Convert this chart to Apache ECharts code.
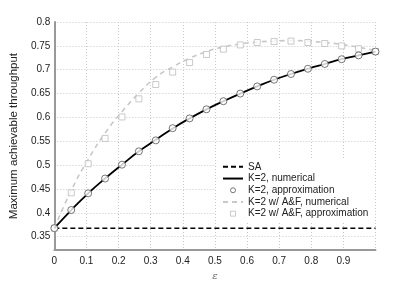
<!DOCTYPE html>
<html>
<head>
<meta charset="utf-8">
<script src="https://cdn.jsdelivr.net/npm/echarts@6/dist/echarts.min.js"></script>
<style>
  html, body { margin: 0; padding: 0; background: #fff; }
  #chart { width: 415px; height: 286px; }
</style>
</head>
<body>
<div id="chart"></div>
<script>
// epsilon grid, 20 points from 0 to 1
var eps = [0, 0.0526, 0.1053, 0.1579, 0.2105, 0.2632, 0.3158, 0.3684, 0.4211, 0.4737,
  0.5263, 0.5789, 0.6316, 0.6842, 0.7368, 0.7895, 0.8421, 0.8947, 0.9474, 1]

var saLevel = 0.3679
var kNum = [0.368, 0.406, 0.441, 0.472, 0.501, 0.529, 0.553, 0.577, 0.598, 0.617,
  0.634, 0.650, 0.665, 0.679, 0.691, 0.702, 0.712, 0.722, 0.730, 0.738]
var kApprox = [0.368, 0.406, 0.441, 0.472, 0.501, 0.529, 0.552, 0.5775, 0.598, 0.617,
  0.634, 0.650, 0.665, 0.679, 0.691, 0.702, 0.712, 0.722, 0.730, 0.738]
var afNum = [0.368, 0.447, 0.512, 0.567, 0.612, 0.651, 0.684, 0.706, 0.724, 0.738,
  0.748, 0.754, 0.758, 0.760, 0.761, 0.760, 0.757, 0.753, 0.747, 0.740]
var afApprox = [0.368, 0.442, 0.503, 0.556, 0.601, 0.639, 0.669, 0.695, 0.715, 0.732,
  0.743, 0.752, 0.757, 0.759, 0.760, 0.757, 0.755, 0.750, 0.744, 0.738]

var xTickLabels = [0, 0.1, 0.2, 0.3, 0.4, 0.5, 0.6, 0.7, 0.8, 0.9]
var xGrid = [0, 0.1, 0.2, 0.3, 0.4, 0.5, 0.6, 0.7, 0.8, 0.9, 1]
var yTicks = [0.35, 0.4, 0.45, 0.5, 0.55, 0.6, 0.65, 0.7, 0.75, 0.8]

var names = ['SA', 'K=2, numerical', 'K=2, approximation',
  'K=2 w/ A&F, numerical', 'K=2 w/ A&F, approximation']

function pairs (xs, ys) {
  return xs.map(function (x, i) { return [x, ys[i]] })
}

var font = 'Liberation Sans, Arial, sans-serif'
var chart = echarts.init(document.getElementById('chart'))

// legend: lines without the dot, small hollow markers
var noDot = { opacity: 0 }
var legendData = [
  { name: names[0], itemStyle: noDot },
  { name: names[1], itemStyle: noDot },
  { name: names[2], icon: 'circle', itemStyle: { color: '#fff', borderColor: '#555', borderWidth: 1 } },
  { name: names[3], itemStyle: noDot },
  { name: names[4], icon: 'path://M0,0h10v10h-10z', itemStyle: { color: '#fff', borderColor: '#bdbdbd', borderWidth: 1 } }
]

chart.setOption({
  animation: false,
  backgroundColor: '#fff',
  grid: { left: 53.5, right: 39.5, top: 22, bottom: 32.5 },
  xAxis: {
    type: 'value',
    min: 0,
    max: 1,
    name: 'ε',
    nameLocation: 'middle',
    nameGap: 12,
    nameTextStyle: { fontFamily: 'DejaVu Serif', fontStyle: 'italic', fontSize: 10, color: '#666' },
    axisLine: { show: true, onZero: false, lineStyle: { color: '#999', width: 2 } },
    axisTick: { show: false, customValues: xGrid },
    axisLabel: { customValues: xTickLabels, fontFamily: font, fontSize: 10, color: '#222', margin: 6 },
    splitLine: { show: true, lineStyle: { color: '#c8c8c8', type: [1, 2], width: 1 } }
  },
  yAxis: {
    type: 'value',
    min: 0.322,
    max: 0.8,
    name: 'Maximum achievable throughput',
    nameLocation: 'middle',
    nameGap: 17,
    nameTextStyle: { fontFamily: font, fontSize: 11.5, color: '#222' },
    axisLine: { show: true, onZero: false, lineStyle: { color: '#999', width: 2 } },
    axisTick: { show: false, customValues: yTicks },
    axisLabel: { customValues: yTicks, fontFamily: font, fontSize: 10, color: '#222', margin: 4 },
    splitLine: { show: true, lineStyle: { color: '#c8c8c8', type: [1, 2], width: 1 } }
  },
  legend: {
    orient: 'vertical',
    left: 216,
    top: 159,
    padding: [2, 6, 2, 6],
    backgroundColor: '#fff',
    itemWidth: 20,
    itemHeight: 5,
    itemGap: 0,
    symbolKeepAspect: true,
    textStyle: { fontFamily: font, fontSize: 10, lineHeight: 11.7, color: '#222' },
    data: legendData
  },
  series: [
    {
      name: names[0],
      type: 'line',
      data: [[0, saLevel], [1, saLevel]],
      symbol: 'none',
      lineStyle: { color: '#000', width: 1.5, type: [5, 3] },
      itemStyle: { color: '#000' },
      z: 3
    },
    {
      name: names[3],
      type: 'line',
      data: pairs(eps, afNum),
      smooth: true,
      symbol: 'none',
      lineStyle: { color: '#c8c8c8', width: 1.6, type: [5, 4] },
      itemStyle: { color: '#c8c8c8' },
      z: 2
    },
    {
      name: names[4],
      type: 'scatter',
      data: pairs(eps, afApprox),
      symbol: 'rect',
      symbolSize: 6,
      itemStyle: { color: '#fff', borderColor: '#bdbdbd', borderWidth: 1 },
      z: 3
    },
    {
      name: names[1],
      type: 'line',
      data: pairs(eps, kNum),
      smooth: true,
      symbol: 'none',
      lineStyle: { color: '#000', width: 1.8 },
      itemStyle: { color: '#000' },
      z: 4
    },
    {
      name: names[2],
      type: 'scatter',
      data: pairs(eps, kApprox),
      symbol: 'circle',
      symbolSize: 7,
      itemStyle: { color: '#fff', borderColor: '#555', borderWidth: 1 },
      z: 5
    }
  ]
})
</script>
</body>
</html>
